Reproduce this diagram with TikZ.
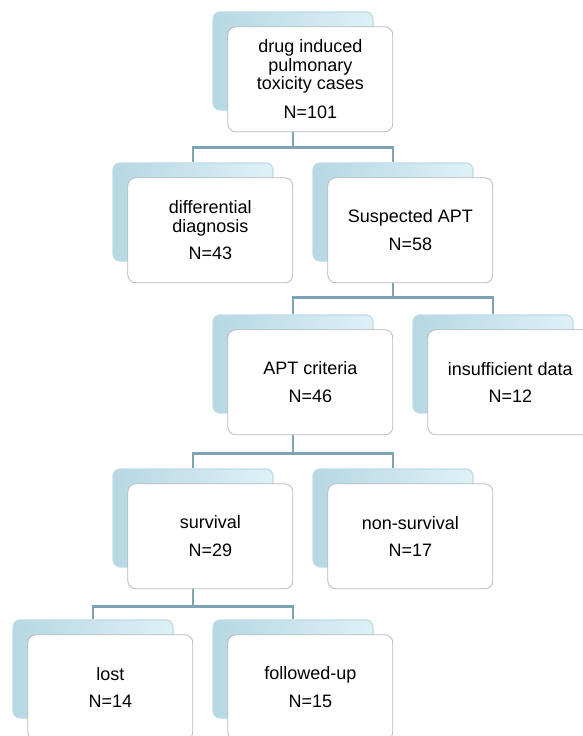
\documentclass[tikz,border=0pt]{standalone}
\usepackage{fontspec}
\setmainfont{Liberation Sans}
\usetikzlibrary{positioning}

\definecolor{linkblue}{RGB}{124,164,180}
\definecolor{backlight}{RGB}{222,241,247}
\definecolor{backdark}{RGB}{182,215,227}
\definecolor{backedge}{RGB}{190,220,230}
\definecolor{frontedge}{RGB}{180,187,193}

\tikzset{
	back/.style={rectangle, rounded corners=7pt, minimum width=160pt, minimum height=98pt, inner sep=0pt, draw=backedge, line width=1.2pt, left color=backdark, right color=backlight},
	front/.style={rectangle, rounded corners=8pt, minimum width=165pt, minimum height=105pt, inner sep=0pt, draw=frontedge, line width=0.8pt, fill=white, align=center, font=\fontsize{18}{18.5}\selectfont},
	link/.style={draw=linkblue, line width=2.6pt}
}

\begin{document}
\begin{tikzpicture}[x=1pt,y=-1pt]
	\clip (0,0) rectangle (583,736);
	\fill [white] (0,0) rectangle (583,736);
	% Back boxes %
	\node [back] (drugB) at (293,61) {};
	\node [back] (diffB) at (193,212) {};
	\node [back] (susB) at (393,212) {};
	\node [back] (aptB) at (293,364) {};
	\node [back] (insB) at (493,364) {};
	\node [back] (survB) at (193,518) {};
	\node [back] (nonB) at (393,518) {};
	\node [back] (lostB) at (93,669) {};
	\node [back] (follB) at (293,669) {};
	% Connectors %
	\path (drugB.north west) ++(15,120) coordinate (drugS);
	\draw [link] (drugB |- drugS) -- ++(0,16) -| (diffB.north);
	\draw [link] (drugB |- drugS) -- ++(0,16) -| (susB.north);
	\path (susB.north west) ++(15,120) coordinate (susS);
	\draw [link] (susB |- susS) -- ++(0,15) -| (aptB.north);
	\draw [link] (susB |- susS) -- ++(0,15) -| (insB.north);
	\path (aptB.north west) ++(15,120) coordinate (aptS);
	\draw [link] (aptB |- aptS) -- ++(0,19) -| (survB.north);
	\draw [link] (aptB |- aptS) -- ++(0,19) -| (nonB.north);
	\path (survB.north west) ++(15,120) coordinate (survS);
	\draw [link] (survB |- survS) -- ++(0,18) -| (lostB.north);
	\draw [link] (survB |- survS) -- ++(0,18) -| (follB.north);
	% Front boxes %
	\node [front, below right=15pt and 15pt of drugB.north west] (drug) {drug induced\\pulmonary\\toxicity cases\\[10pt]N=101};
	\node [front, below right=15pt and 15pt of diffB.north west] (diff) {differential\\diagnosis\\[9pt]N=43};
	\node [front, below right=15pt and 15pt of susB.north west] (sus) {Suspected APT\\[9pt]N=58};
	\node [front, below right=15pt and 15pt of aptB.north west] (apt) {APT criteria\\[9pt]N=46};
	\node [front, below right=15pt and 15pt of insB.north west] (ins) {insufficient data\\[9pt]N=12};
	\node [front, below right=15pt and 15pt of survB.north west] (surv) {survival\\[9pt]N=29};
	\node [front, below right=15pt and 15pt of nonB.north west] (non) {non-survival\\[9pt]N=17};
	\node [front, below right=15pt and 15pt of lostB.north west] (lost) {lost\\[9pt]N=14};
	\node [front, below right=15pt and 15pt of follB.north west] (foll) {followed-up\\[9pt]N=15};
\end{tikzpicture}
\end{document}
